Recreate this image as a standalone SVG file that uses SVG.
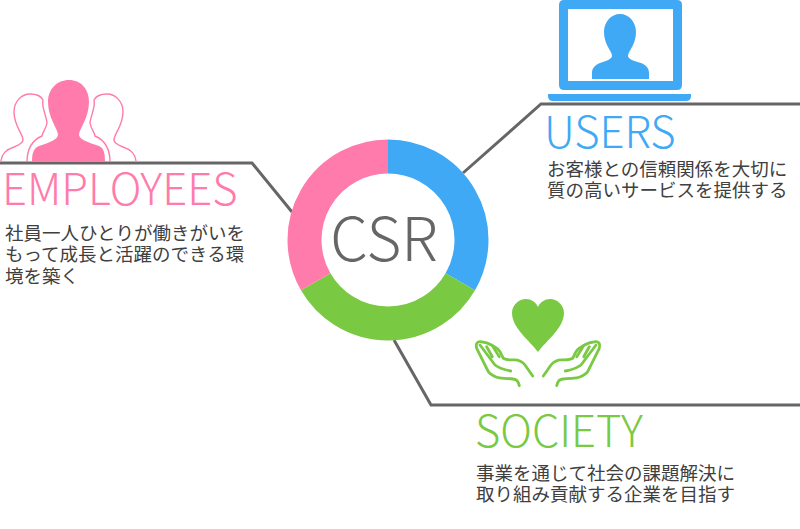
<svg xmlns="http://www.w3.org/2000/svg" width="800" height="529" viewBox="0 0 800 529">
<style>
text{font-family:"Noto Sans CJK JP",sans-serif}
.h{font-size:43.6px;font-weight:300}
.b{font-size:18.5px;font-weight:400;fill:#404040}
.pk{fill:#ff7bac}.bl{fill:#3fa9f5}.gr{fill:#7ac943}
.conn{fill:none;stroke:#666;stroke-width:3}
.seg{fill:none;stroke-width:34}
.po{fill:none;stroke:#ff7bac;stroke-width:1.4}
.ho{fill:none;stroke:#7ac943;stroke-width:2.8;stroke-linecap:round;stroke-linejoin:round}
</style>
<defs>
<g id="hand">
<path class="ho" d="M519.300,385.700C518,381 517,379.500 513,379C506,378 500,378.500 496.700,377.300C492,375.500 490,374 488.300,371.700L476.700,348.300C475.500,344.500 477,341.500 480,341.700C485,342 490,344 493.300,346C497,348 499,350 500,351.700L503.300,358.300C506,360 510,360 514,359.800C519,359.700 522,361 525,365L532.700,376"/>
<path class="ho" d="M480,345L495,365C499,368 505,370 510.700,371M486.700,346.700L492.300,356.700M493,346.700L499.300,356.700"/>
</g>
<path id="peer" class="po" d="M1,161C2,152 8,149 14,147C19,145 23,143 23,140C23,134 14,126 14,112C14,101 22,94 30,94C36,94 41,96 43,100C41,106 47,118 47,123C46,129 42,133 42,136C35,139 27,145 27,162"/>
</defs>
<g id="connectors">
<path class="conn" d="M0,163H252L292,212"/>
<path class="conn" d="M463,173L541,104H800"/>
<path class="conn" d="M394,340L431,405H800"/>
</g>
<g id="csr">
<path class="seg" stroke="#3fa9f5" d="M388,156.500A83.500,83.500 0 0 1 460.300,281.750"/>
<path class="seg" stroke="#7ac943" d="M460.300,281.750A83.500,83.500 0 0 1 315.700,281.750"/>
<path class="seg" stroke="#ff7bac" d="M315.700,281.750A83.500,83.500 0 0 1 388,156.500"/>
<text x="384" y="261" text-anchor="middle" font-size="60" font-weight="300" fill="#666">CSR</text>
</g>
<g id="employees">
<use href="#peer"/>
<use href="#peer" transform="translate(137,0) scale(-1,1)"/>
<path class="pk" d="M32,162C32,150 35,147 42,145C50,142 57,140 58,135C58,129 48,118 48,102C48,89 57,80 69,80C81,80 89,89 89,102C89,118 79,129 79,135C80,140 88,142 96,145C103,147 105,150 105,162Z"/>
<text class="h pk" x="2" y="205">EMPLOYEES</text>
<text class="b" x="5" y="240">社員一人ひとりが働きがいを</text>
<text class="b" x="5" y="261">もって成長と活躍のできる環</text>
<text class="b" x="5" y="283">境を築く</text>
</g>
<g id="users">
<path class="bl" fill-rule="evenodd" d="M564,0H677Q682,0 682,5V85Q682,90 677,90H564Q559,90 559,85V5Q559,0 564,0ZM568,9V81H673V9Z"/>
<path class="bl" d="M548,94H691V96Q691,101 686,101H553Q548,101 548,96Z"/>
<path class="bl" d="M592,79V73C592,68 595,65 600,63C606,61 612,59 612,56C612,51 604,45 604,32C604,22 611,14 620,14C629,14 636,22 636,32C636,45 628,51 628,56C628,59 634,61 641,63C646,65 649,68 649,73V79Z"/>
<text class="h bl" x="544" y="148">USERS</text>
<text class="b" x="547" y="176">お客様との信頼関係を大切に</text>
<text class="b" x="547" y="197">質の高いサービスを提供する</text>
</g>
<g id="society">
<path class="gr" d="M538,352C530,341 512,328 512,313C512,305 519,299 526,299C531,299 536,302 538,307C540,302 545,299 550,299C557,299 564,305 564,313C564,328 546,341 538,352Z"/>
<use href="#hand"/>
<use href="#hand" transform="translate(1076,0) scale(-1,1)"/>
<text class="h gr" x="475" y="447">SOCIETY</text>
<text class="b" x="476" y="480">事業を通じて社会の課題解決に</text>
<text class="b" x="476" y="501">取り組み貢献する企業を目指す</text>
</g>
</svg>
